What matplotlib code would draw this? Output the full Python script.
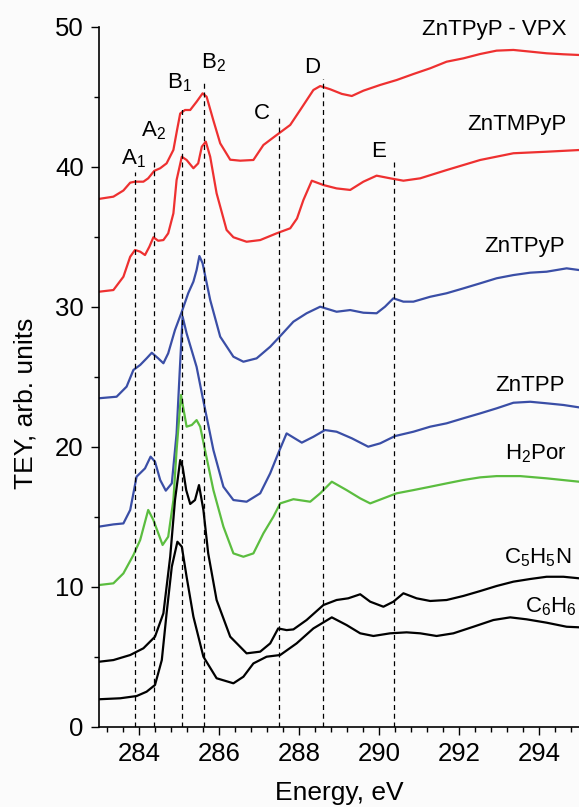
import numpy as np
import matplotlib
matplotlib.use('Agg')
import matplotlib.pyplot as plt
from matplotlib.ticker import MultipleLocator

plt.rcParams['font.family'] = ['Liberation Sans', 'DejaVu Sans']
plt.rcParams['mathtext.default'] = 'regular'

# ZnTPyP - VPX (red, top)
vpx_x = [283.0, 283.36, 283.61, 283.78, 283.9, 284.11, 284.23, 284.38, 284.53, 284.69, 284.86, 284.95, 285.03,
         285.15, 285.28, 285.44, 285.59, 285.69, 285.86, 286.03, 286.28, 286.53, 286.86, 287.11, 287.44,
         287.78, 288.03, 288.36, 288.53, 288.78, 289.07, 289.32, 289.61, 290.03, 290.44, 290.86, 291.28,
         291.69, 292.11, 292.53, 292.94, 293.36, 293.78, 294.19, 294.61, 295.0]
vpx_y = [37.7, 37.86, 38.3, 38.86, 38.93, 38.93, 39.17, 39.7, 39.89, 40.24, 41.2, 42.6, 43.8,
         44.05, 44.05, 44.64, 45.24, 45.0, 43.3, 41.67, 40.5, 40.43, 40.48, 41.55, 42.26,
         42.98, 44.05, 45.48, 45.76, 45.53, 45.2, 45.05, 45.43, 45.84, 46.19, 46.62, 47.03,
         47.5, 47.74, 48.05, 48.29, 48.34, 48.22, 48.1, 48.03, 47.98]

# ZnTMPyP (red, lower)
tmpyp_x = [283.0, 283.36, 283.61, 283.78, 283.9, 284.03, 284.15, 284.26, 284.36, 284.48, 284.61, 284.73,
           284.86, 284.94, 285.07, 285.19, 285.36, 285.48, 285.57, 285.67, 285.78, 285.94, 286.19, 286.36,
           286.69, 287.03, 287.44, 287.78, 287.95, 288.11, 288.32, 288.61, 288.94, 289.28, 289.61, 289.94,
           290.28, 290.61, 291.03, 291.69, 292.53, 293.36, 294.19, 295.0]
tmpyp_y = [31.07, 31.19, 32.14, 33.57, 34.05, 33.93, 33.69, 34.29, 34.96, 34.71, 34.76, 35.24,
           36.67, 39.05, 40.71, 40.48, 39.89, 40.24, 41.43, 41.79, 40.71, 38.1, 35.48, 34.96,
           34.64, 34.76, 35.24, 35.6, 36.3, 37.62, 39.0, 38.69, 38.45, 38.34, 38.93, 39.36,
           39.17, 39.0, 39.17, 39.76, 40.48, 40.96, 41.07, 41.19]

# ZnTPyP (blue, upper)
tpyp_x = [283.0, 283.44, 283.69, 283.86, 284.03, 284.19, 284.32, 284.48, 284.61, 284.73, 284.9, 285.07,
          285.23, 285.36, 285.44, 285.51, 285.59, 285.78, 286.03, 286.36, 286.61, 286.94, 287.28, 287.53,
          287.86, 288.19, 288.53, 288.94, 289.28, 289.61, 289.94, 290.15, 290.36, 290.61, 290.86, 291.28,
          291.69, 292.11, 292.53, 292.94, 293.36, 293.78, 294.19, 294.69, 295.0]
tpyp_y = [23.46, 23.57, 24.29, 25.48, 25.84, 26.31, 26.71, 26.31, 25.96, 26.67, 28.34, 29.64,
          30.96, 31.79, 32.62, 33.62, 33.1, 30.48, 27.86, 26.43, 26.07, 26.31, 27.14, 27.9,
          28.93, 29.53, 30.0, 29.64, 29.76, 29.57, 29.53, 30.0, 30.6, 30.36, 30.36, 30.71,
          30.96, 31.31, 31.67, 32.03, 32.26, 32.43, 32.5, 32.74, 32.62]

# ZnTPP (blue, lower)
tpp_x = [283.0, 283.36, 283.61, 283.78, 283.94, 284.15, 284.29, 284.4, 284.53, 284.67, 284.82, 284.94,
         285.02, 285.09, 285.19, 285.44, 285.6, 285.86, 286.11, 286.36, 286.69, 287.03, 287.28, 287.48, 287.69,
         288.07, 288.36, 288.65, 288.94, 289.32, 289.73, 290.03, 290.4, 290.86, 291.28, 291.69, 292.11,
         292.53, 292.94, 293.36, 293.78, 294.19, 294.61, 295.0]
tpp_y = [14.29, 14.45, 14.52, 15.48, 17.86, 18.45, 19.29, 18.93, 17.62, 16.86, 17.38, 20.95,
         25.5, 29.29, 28.1, 25.7, 23.4, 19.76, 17.14, 16.19, 16.07, 16.67, 18.1, 19.52, 20.95,
         20.29, 20.71, 21.19, 21.07, 20.6, 20.0, 20.24, 20.76, 21.07, 21.43, 21.67, 22.03,
         22.38, 22.74, 23.14, 23.21, 23.1, 22.98, 22.81]

# H2Por (green)
h2por_x = [283.0, 283.36, 283.61, 283.86, 284.03, 284.23, 284.36, 284.59, 284.73, 284.86, 284.94, 285.05,
           285.19, 285.32, 285.44, 285.53, 285.65, 285.86, 286.11, 286.36, 286.61, 286.86, 287.11, 287.36,
           287.53, 287.86, 288.28, 288.53, 288.82, 289.19, 289.53, 289.78, 290.11, 290.44, 290.86, 291.28,
           291.69, 292.11, 292.53, 292.94, 293.53, 294.19, 295.0]
h2por_y = [10.12, 10.24, 10.95, 12.26, 13.34, 15.48, 14.76, 12.98, 13.57, 16.19, 19.76, 23.7,
           21.43, 21.55, 21.9, 21.43, 19.76, 16.9, 14.29, 12.38, 12.14, 12.38, 13.81, 15.0,
           15.95, 16.25, 16.07, 16.67, 17.5, 16.9, 16.31, 15.95, 16.31, 16.67, 16.9, 17.14,
           17.38, 17.62, 17.81, 17.9, 17.9, 17.74, 17.5]

# C5H5N (black, upper)
pyr_x = [283.0, 283.36, 283.78, 284.11, 284.4, 284.61, 284.78, 284.9, 285.03, 285.09, 285.18, 285.28,
         285.4, 285.5, 285.61, 285.73, 285.94, 286.28, 286.69, 287.03, 287.28, 287.48, 287.69, 287.86,
         288.19, 288.61, 288.94, 289.23, 289.53, 289.78, 290.11, 290.36, 290.61, 290.94, 291.28, 291.69,
         292.11, 292.53, 292.94, 293.36, 293.78, 294.19, 294.61, 295.0]
pyr_y = [4.64, 4.76, 5.12, 5.6, 6.43, 8.1, 12.14, 16.19, 19.05, 18.57, 16.9, 15.91,
         16.19, 17.26, 15.48, 12.38, 9.05, 6.43, 5.24, 5.36, 5.95, 7.02, 6.9, 6.95,
         7.62, 8.69, 9.05, 9.17, 9.46, 8.93, 8.57, 8.93, 9.53, 9.17, 8.98, 9.05,
         9.34, 9.69, 10.05, 10.36, 10.55, 10.71, 10.71, 10.6]

# C6H6 (black, lower)
bz_x = [283.0, 283.53, 283.94, 284.19, 284.4, 284.57, 284.69, 284.82, 284.96, 285.07, 285.19, 285.36,
        285.61, 285.94, 286.36, 286.61, 286.86, 287.19, 287.53, 287.94, 288.36, 288.82, 289.19, 289.53,
        289.86, 290.28, 290.69, 291.03, 291.44, 291.86, 292.36, 292.86, 293.28, 293.69, 294.19, 294.69, 295.0]
bz_y = [1.96, 2.03, 2.19, 2.5, 2.98, 4.76, 8.1, 11.43, 13.21, 12.86, 10.71, 7.86,
        5.0, 3.46, 3.1, 3.57, 4.52, 5.0, 5.12, 5.95, 7.02, 7.81, 7.26, 6.67,
        6.48, 6.67, 6.74, 6.67, 6.48, 6.67, 7.14, 7.62, 7.81, 7.67, 7.43, 7.14, 7.1]

# dashed marker lines: position, top, label, label x, label y
mark_names = [r'A$_1$', r'A$_2$', r'B$_1$', r'B$_2$', 'C', 'D', 'E']
mark_pos = [283.9, 284.38, 285.07, 285.63, 287.5, 288.61, 290.38]
mark_top = [39.6, 40.5, 44.3, 46.0, 43.6, 46.3, 40.5]
mark_lx = [283.86, 284.36, 285.02, 285.86, 287.07, 288.32, 290.0]
mark_ly = [40.6, 42.6, 46.0, 47.4, 43.8, 47.1, 41.1]

curve_names = ['ZnTPyP - VPX', 'ZnTMPyP', 'ZnTPyP', 'ZnTPP', r'H$_2$Por', r'C$_5$H$_5$N', r'C$_6$H$_6$']
name_x = [294.7, 294.7, 294.65, 294.65, 294.7, 294.82, 294.95]
name_y = [49.8, 43.0, 34.3, 24.4, 19.5, 12.1, 8.6]

red = '#ee3030'
blue = '#3a4ea6'
green = '#5bbd3f'

fig = plt.figure(figsize=(5.79, 8.07), dpi=100, facecolor='#fbfbfb')
ax = fig.add_axes([99 / 579, 80.3 / 807, 480 / 579, 700 / 807])
ax.set_facecolor('#fbfbfb')

for xs, ys, c in [(vpx_x, vpx_y, red), (tmpyp_x, tmpyp_y, red), (tpyp_x, tpyp_y, blue),
                  (tpp_x, tpp_y, blue), (h2por_x, h2por_y, green), (pyr_x, pyr_y, 'black'),
                  (bz_x, bz_y, 'black')]:
    ax.plot(xs, ys, color=c, lw=1.6, solid_joinstyle='round')

for p, t in zip(mark_pos, mark_top):
    ax.plot([p, p], [0, t], color='black', lw=0.9, dashes=(4, 3))
for n, lx, ly in zip(mark_names, mark_lx, mark_ly):
    ax.text(lx, ly, n, fontsize=16, ha='center', va='center')

for n, x, y in zip(curve_names, name_x, name_y):
    ax.text(x, y, n, fontsize=16, ha='right', va='center')

ax.set_xlim(283, 295)
ax.set_ylim(0, 50)
ax.xaxis.set_major_locator(MultipleLocator(2))
ax.xaxis.set_minor_locator(MultipleLocator(0.4))
ax.yaxis.set_major_locator(MultipleLocator(10))
ax.yaxis.set_minor_locator(MultipleLocator(5))
ax.tick_params(which='major', direction='out', length=6, width=1, labelsize=18.5, pad=5)
ax.tick_params(which='minor', direction='out', length=3.5, width=1)
ax.spines['top'].set_visible(False)
ax.spines['right'].set_visible(False)
ax.spines['left'].set_linewidth(1.2)
ax.spines['bottom'].set_linewidth(1.2)

ax.set_xlabel('Energy, eV', fontsize=19, labelpad=11)
ax.set_ylabel('TEY, arb. units', fontsize=19)
ax.yaxis.set_label_coords(-0.128, 0.462)

fig.savefig('out.png', dpi=100, facecolor=fig.get_facecolor())
